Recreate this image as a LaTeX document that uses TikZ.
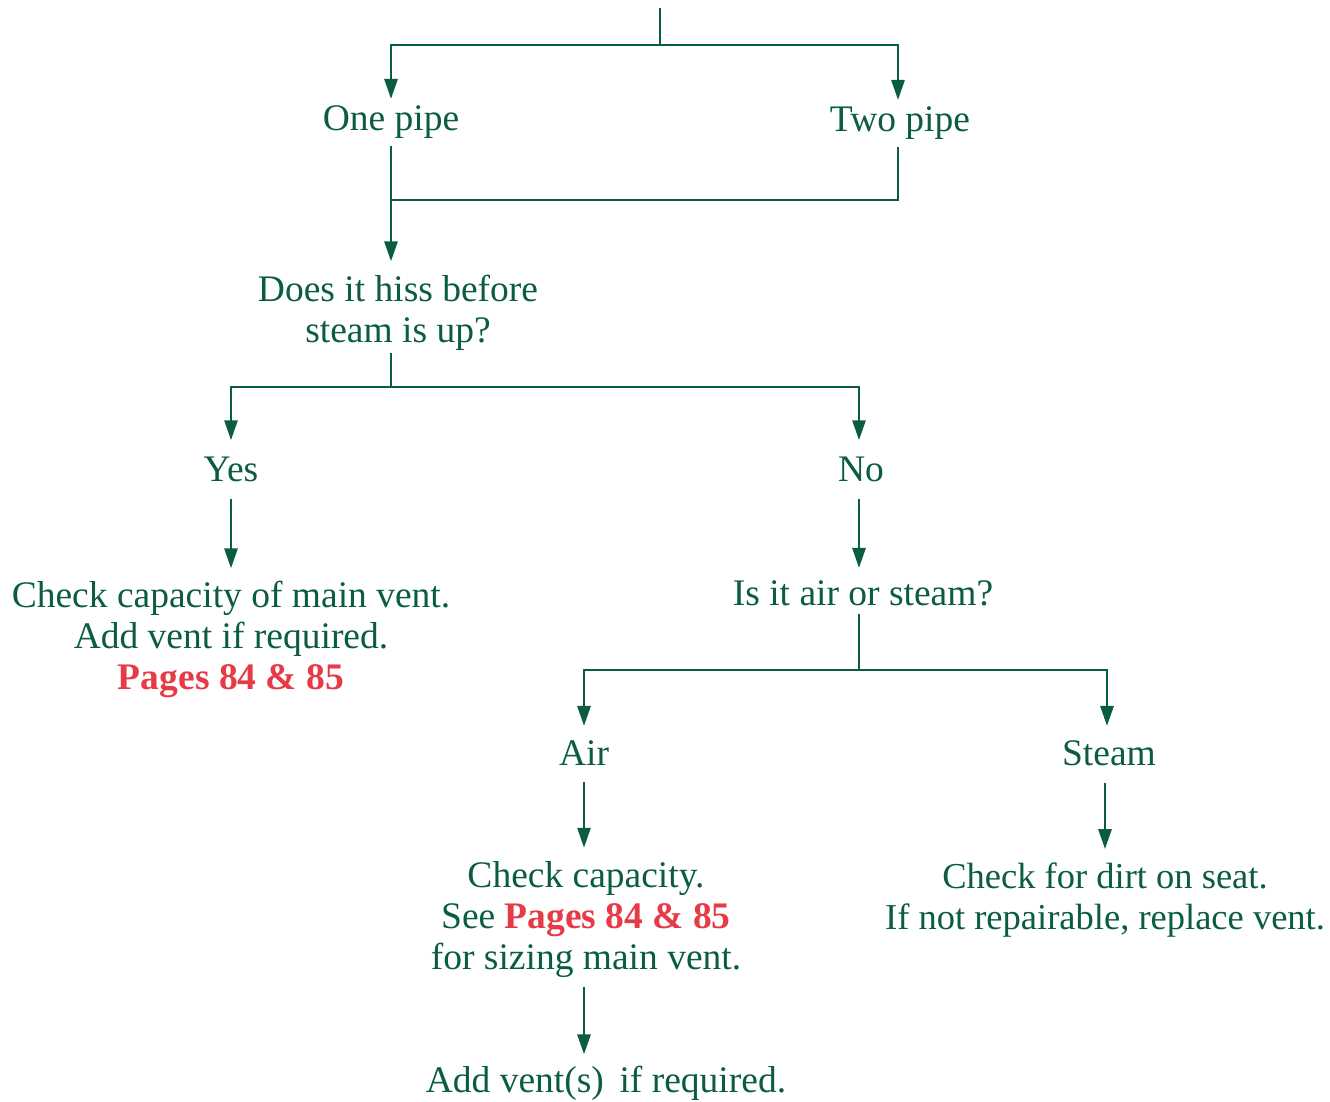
\documentclass[tikz,border=0pt]{standalone}
\usepackage{fontspec}
\setmainfont{Liberation Serif}
\usetikzlibrary{arrows.meta}
\definecolor{vgreen}{HTML}{0B5D3F}
\definecolor{vred}{HTML}{E63B46}
\begin{document}
\begin{tikzpicture}[x=1pt,y=-1pt,
  lbl/.style={text=vgreen, font=\fontsize{37.5}{41}\selectfont, align=center, inner sep=0pt, anchor=base},
  wire/.style={draw=vgreen, line width=2.8pt},
  arr/.style={wire, -{Triangle[length=20pt,width=13pt]}}]
\useasboundingbox (0,0) rectangle (1330,1101);

% labels (anchored on the baseline of their last line)
\node[lbl] (one)     at (391,130)  {One pipe};
\node[lbl] (two)     at (900,131)  {Two pipe};
\node[lbl] (hiss)    at (398,342)  {Does it hiss before\\steam is up?};
\node[lbl] (yes)     at (231,481)  {Yes};
\node[lbl] (no)      at (861,481)  {No};
\node[lbl] (chkmain) at (231,689)  {Check capacity of main vent.\\Add vent if required.\\\textcolor{vred}{\bfseries Pages 84 \& 85}};
\node[lbl] (isair)   at (863,605)  {Is it air or steam?};
\node[lbl] (air)     at (584,765)  {Air};
\node[lbl] (steam)   at (1109,765) {Steam};
\node[lbl] (chkcap)  at (586,969)  {Check capacity.\\See \textcolor{vred}{\bfseries Pages 84 \& 85}\\for sizing main vent.};
\node[lbl, font=\fontsize{36.5}{41}\selectfont] (dirt) at (1105,929) {Check for dirt on seat.\\If not repairable, replace vent.};
\node[lbl] (addvent) at (606,1092) {Add vent(s)\, if required.};

% junction points
\coordinate (top)    at (660,8);
\coordinate (split1) at (660,45);
\coordinate (merge)  at (391,200);
\coordinate (split2) at (391,387);
\coordinate (split3) at (859,670);

% connectors
\draw[wire] (top) -- (split1);
\draw[arr, shorten >=6pt] (split1) -| (one.north);
\draw[arr, shorten >=6pt] (split1) -| ([xshift=-2pt]two.north);
\draw[wire, shorten <=8pt] ([xshift=-2pt]two.south) |- (merge);
\draw[arr, shorten <=8pt, shorten >=13pt] (one.south) -- (one.south |- hiss.north);
\draw[wire, shorten <=3pt] (hiss.south -| merge) -- (split2);
\draw[arr, shorten >=16pt] (split2) -| (yes.north);
\draw[arr, shorten >=16pt] (split2) -| ([xshift=-2pt]no.north);
\draw[arr, shorten <=17pt, shorten >=12pt] (yes.south) -- (chkmain.north);
\draw[arr, shorten <=17pt, shorten >=12pt] ([xshift=-2pt]no.south) -- ([xshift=-2pt]no.south |- isair.north);
\draw[wire, shorten <=8pt] (isair.south -| split3) -- (split3);
\draw[arr, shorten >=14pt] (split3) -| (air.north);
\draw[arr, shorten >=14pt] (split3) -| ([xshift=-2pt]steam.north);
\draw[arr, shorten <=17pt, shorten >=13pt] (air.south) -- (air.south |- chkcap.north);
\draw[arr, shorten <=17pt, shorten >=13pt] ([xshift=-4pt]steam.south) -- ([xshift=-4pt]steam.south |- dirt.north);
\draw[arr, shorten <=10pt, shorten >=11pt] (chkcap.south -| air.south) -- (air.south |- addvent.north);
\end{tikzpicture}
\end{document}
